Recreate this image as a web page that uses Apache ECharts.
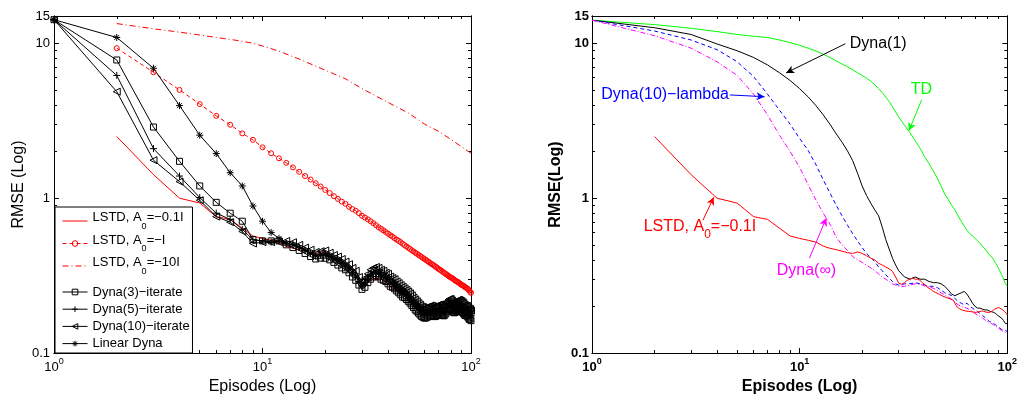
<!DOCTYPE html>
<html><head><meta charset="utf-8">
<script src="https://cdn.jsdelivr.net/npm/echarts@6/dist/echarts.min.js"></script>
<style>html,body{margin:0;padding:0;background:#fff}#c{width:1020px;height:400px}</style>
</head><body><div id="c"></div>
<script>
// ---------- axis ticks / labels ----------
const xMajorTicks = [1, 10, 100];
const xMinorTicks = [2, 3, 4, 5, 6, 7, 8, 9, 20, 30, 40, 50, 60, 70, 80, 90];
const xTickLabels = ['{b|10}{sup|0}', '{b|10}{sup|1}', '{b|10}{sup|2}'];
const yMajorTicks = [0.1, 1, 10, 15];
const yTickLabels = ['0.1', '1', '10', '15'];
const yMinorTicks = [0.2, 0.3, 0.4, 0.5, 0.6, 0.7, 0.8, 0.9, 2, 3, 4, 5, 6, 7, 8, 9];

// ---------- left panel data (episode-indexed) ----------
// LSTD, A0=-0.1I  (episodes 2..100)
const lstdSmall = [
  2.5, 1.42, 1.0, 0.93, 0.76, 0.73, 0.64, 0.57, 0.55, 0.535,
  0.52, 0.49, 0.475, 0.465, 0.455, 0.445, 0.44, 0.45, 0.44, 0.425,
  0.41, 0.40, 0.38, 0.37, 0.36, 0.35, 0.337, 0.31, 0.283, 0.278,
  0.285, 0.295, 0.30, 0.305, 0.30, 0.30, 0.295, 0.285, 0.278, 0.268,
  0.262, 0.257, 0.25, 0.247, 0.243, 0.24, 0.236, 0.233, 0.23, 0.228,
  0.226, 0.224, 0.222, 0.22, 0.21, 0.2, 0.196, 0.193, 0.19, 0.189,
  0.188, 0.187, 0.187, 0.186, 0.185, 0.185, 0.184, 0.184, 0.183, 0.183,
  0.184, 0.185, 0.186, 0.187, 0.187, 0.186, 0.185, 0.184, 0.183, 0.183,
  0.183, 0.184, 0.186, 0.188, 0.19, 0.192, 0.194, 0.195, 0.196, 0.197,
  0.196, 0.194, 0.192, 0.19, 0.188, 0.186, 0.184, 0.18, 0.176
];
// LSTD, A0=-I  (episodes 2..100)
const lstdI = [
  9.3, 6.5, 5.0, 4.05, 3.4, 2.98, 2.62, 2.38, 2.13, 1.95,
  1.81, 1.69, 1.58, 1.48, 1.39, 1.32, 1.25, 1.19, 1.13, 1.08,
  1.03, 0.99, 0.95, 0.92, 0.88, 0.85, 0.83, 0.80, 0.77, 0.75,
  0.73, 0.71, 0.69, 0.67, 0.65, 0.635, 0.62, 0.605, 0.59, 0.577,
  0.565, 0.552, 0.54, 0.53, 0.52, 0.508, 0.498, 0.488, 0.479, 0.47,
  0.461, 0.453, 0.445, 0.438, 0.431, 0.424, 0.417, 0.41, 0.404, 0.398,
  0.392, 0.386, 0.38, 0.375, 0.37, 0.365, 0.36, 0.354, 0.349, 0.345,
  0.341, 0.336, 0.331, 0.327, 0.323, 0.319, 0.315, 0.311, 0.308, 0.305,
  0.302, 0.298, 0.294, 0.291, 0.289, 0.286, 0.283, 0.279, 0.276, 0.274,
  0.272, 0.269, 0.266, 0.263, 0.261, 0.258, 0.254, 0.249, 0.245
];
// LSTD, A0=-10I
const lstd10Episodes = [2, 3, 4, 5, 6, 7, 8, 9, 10, 12, 15, 20, 25, 30, 40, 50, 60, 70, 80, 90, 100];
const lstd10Values = [13.4, 12.4, 11.8, 11.3, 10.9, 10.6, 10.3, 10.0, 9.6, 8.9, 7.9, 6.7, 5.9, 5.1, 4.15, 3.55, 3.0, 2.7, 2.4, 2.15, 1.95];
// Dyna iterate curves, episodes 1..12 each
const dyna3Head = [14.2, 7.8, 2.88, 1.73, 1.2, 0.94, 0.80, 0.71, 0.54, 0.53, 0.53, 0.53];
const dyna5Head = [14.2, 6.2, 2.09, 1.39, 1.01, 0.80, 0.73, 0.63, 0.54, 0.53, 0.52, 0.53];
const dyna10Head = [14.2, 4.87, 1.76, 1.28, 0.97, 0.76, 0.70, 0.61, 0.51, 0.52, 0.52, 0.52];
const linearDynaHead = [14.2, 10.9, 6.9, 3.96, 2.55, 1.94, 1.46, 1.2, 0.89, 0.71, 0.60, 0.55];
// Dyna cluster tails, episodes 13..100 (middle, upper edge, lower edge of the band)
const dynaTail = [
  0.51, 0.50, 0.48, 0.46, 0.44, 0.425, 0.43, 0.435, 0.42, 0.405,
  0.395, 0.38, 0.365, 0.35, 0.33, 0.315, 0.29, 0.272, 0.285, 0.305,
  0.32, 0.33, 0.335, 0.33, 0.322, 0.315, 0.31, 0.30, 0.29, 0.285,
  0.278, 0.27, 0.262, 0.255, 0.248, 0.245, 0.238, 0.232, 0.225, 0.218,
  0.212, 0.205, 0.2, 0.195, 0.19, 0.186, 0.183, 0.181, 0.182, 0.184,
  0.186, 0.188, 0.187, 0.186, 0.185, 0.186, 0.188, 0.19, 0.191, 0.19,
  0.188, 0.187, 0.19, 0.195, 0.2, 0.205, 0.208, 0.207, 0.202, 0.198,
  0.196, 0.197, 0.2, 0.203, 0.205, 0.204, 0.202, 0.2, 0.197, 0.194,
  0.19, 0.188, 0.187, 0.186, 0.182, 0.177, 0.179, 0.174
];
const dynaTailHigh = [
  0.53, 0.52, 0.50, 0.48, 0.465, 0.45, 0.455, 0.46, 0.445, 0.43,
  0.42, 0.405, 0.39, 0.375, 0.355, 0.34, 0.31, 0.292, 0.305, 0.325,
  0.345, 0.355, 0.36, 0.355, 0.345, 0.34, 0.33, 0.325, 0.312, 0.305,
  0.30, 0.29, 0.283, 0.275, 0.268, 0.262, 0.256, 0.25, 0.243, 0.236,
  0.228, 0.222, 0.216, 0.21, 0.205, 0.2, 0.198, 0.196, 0.197, 0.199,
  0.2, 0.203, 0.202, 0.2, 0.2, 0.201, 0.203, 0.205, 0.206, 0.205,
  0.203, 0.202, 0.205, 0.21, 0.216, 0.221, 0.224, 0.223, 0.218, 0.214,
  0.212, 0.213, 0.216, 0.219, 0.221, 0.22, 0.218, 0.216, 0.213, 0.21,
  0.205, 0.203, 0.202, 0.201, 0.197, 0.191, 0.193, 0.188
];
const dynaTailLow = [
  0.50, 0.48, 0.46, 0.44, 0.42, 0.405, 0.41, 0.41, 0.40, 0.385,
  0.37, 0.355, 0.345, 0.33, 0.31, 0.295, 0.275, 0.258, 0.266, 0.285,
  0.30, 0.31, 0.315, 0.31, 0.30, 0.295, 0.29, 0.28, 0.27, 0.266,
  0.26, 0.252, 0.245, 0.238, 0.23, 0.228, 0.222, 0.216, 0.21, 0.203,
  0.197, 0.19, 0.186, 0.181, 0.176, 0.172, 0.17, 0.168, 0.169, 0.171,
  0.173, 0.175, 0.174, 0.173, 0.172, 0.173, 0.175, 0.176, 0.177, 0.176,
  0.175, 0.174, 0.176, 0.181, 0.186, 0.19, 0.193, 0.192, 0.188, 0.184,
  0.182, 0.183, 0.186, 0.188, 0.19, 0.189, 0.188, 0.186, 0.183, 0.18,
  0.176, 0.175, 0.174, 0.173, 0.169, 0.165, 0.166, 0.162
];

// ---------- right panel data ----------
const rightEpisodes = [1, 2, 3, 4, 5, 6, 7, 8, 9, 10, 11, 12, 13, 14, 15, 16, 17, 18, 19, 20,
  21, 22, 23, 24, 25, 26, 27, 28, 29, 30, 32, 34, 36, 38, 40, 42, 44, 46, 48, 50,
  52, 54, 56, 58, 60, 62, 64, 66, 68, 70, 72, 74, 76, 78, 80, 82, 84, 86, 88, 90,
  92, 94, 96, 98, 100];
const tdValues = [14.1, 13.2, 12.5, 11.9, 11.4, 11.1, 10.9, 10.5, 10.1, 9.7,
  9.3, 8.9, 8.5, 8.1, 7.7, 7.35, 7.05, 6.75, 6.45, 6.2,
  5.95, 5.7, 5.4, 5.1, 4.8, 4.5, 4.2, 3.9, 3.6, 3.35,
  2.95, 2.65, 2.35, 2.1, 1.85, 1.67, 1.5, 1.35, 1.2, 1.06,
  0.98, 0.9, 0.84, 0.77, 0.71, 0.66, 0.62, 0.59, 0.57, 0.55,
  0.53, 0.51, 0.49, 0.47, 0.45, 0.43, 0.42, 0.4, 0.38, 0.36,
  0.34, 0.32, 0.3, 0.28, 0.27];
const dyna1Values = [14.1, 12.6, 11.4, 9.9, 8.95, 8.1, 7.25, 6.45, 5.75, 5.1,
  4.5, 3.95, 3.45, 3.0, 2.6, 2.3, 2.02, 1.75, 1.45, 1.2,
  1.04, 0.93, 0.84, 0.77, 0.65, 0.54, 0.47, 0.41, 0.37, 0.34,
  0.31, 0.30, 0.31, 0.30, 0.30, 0.29, 0.285, 0.285, 0.28, 0.27,
  0.255, 0.24, 0.235, 0.24, 0.245, 0.25, 0.24, 0.225, 0.21, 0.2,
  0.195, 0.195, 0.192, 0.19, 0.19, 0.187, 0.185, 0.183, 0.18, 0.175,
  0.17, 0.168, 0.162, 0.155, 0.155];
const dyna10LambdaValues = [14.1, 12.0, 10.5, 9.1, 7.6, 6.1, 4.7, 3.7, 3.0, 2.43,
  2.03, 1.64, 1.31, 1.08, 0.9, 0.77, 0.67, 0.59, 0.53, 0.48,
  0.44, 0.414, 0.39, 0.36, 0.34, 0.32, 0.305, 0.29, 0.28, 0.275,
  0.28, 0.28, 0.285, 0.28, 0.275, 0.27, 0.27, 0.265, 0.255, 0.245,
  0.24, 0.235, 0.225, 0.215, 0.21, 0.205, 0.21, 0.2, 0.195, 0.19,
  0.185, 0.18, 0.175, 0.17, 0.165, 0.16, 0.158, 0.155, 0.152, 0.148,
  0.145, 0.142, 0.14, 0.14, 0.138];
const dynaInfValues = [14.1, 11.2, 9.3, 7.6, 6.2, 4.7, 3.45, 2.55, 2.0, 1.58,
  1.22, 0.97, 0.8, 0.68, 0.56, 0.5, 0.46, 0.42, 0.40, 0.385,
  0.37, 0.355, 0.34, 0.325, 0.31, 0.30, 0.29, 0.28, 0.275, 0.27,
  0.27, 0.275, 0.28, 0.278, 0.272, 0.268, 0.262, 0.255, 0.245, 0.237,
  0.23, 0.222, 0.213, 0.205, 0.2, 0.197, 0.195, 0.19, 0.185, 0.18,
  0.176, 0.172, 0.168, 0.164, 0.16, 0.158, 0.155, 0.152, 0.149, 0.146,
  0.143, 0.14, 0.138, 0.136, 0.135];

// legend texts
const legendNamesA = ['LSTD, A0=−0.1I', 'LSTD, A0=−I', 'LSTD, A0=−10I'];
const legendLabelsA = ['{m|LSTD, A}{s|0}{m|=−0.1I}', '{m|LSTD, A}{s|0}{m|=−I}', '{m|LSTD, A}{s|0}{m|=−10I}'];
const legendNamesB = ['Dyna(3)−iterate', 'Dyna(5)−iterate', 'Dyna(10)−iterate', 'Linear Dyna'];

// annotations of the right panel (data coordinates)
const annotations = [
  {series: 'Dyna(1)', text: 'Dyna(1)', color: '#000000', at: [23.9, 9.93], from: [16.6, 9.93], to: [8.61, 6.44]},
  {series: 'TD', text: 'TD', color: '#00ff00', at: [38.6, 4.99], from: [38.7, 4.31], to: [33.6, 2.72]},
  {series: 'Dyna(10)−lambda', text: 'Dyna(10)−lambda', color: '#0000ff', at: [2.25, 4.64], from: [4.61, 4.64], to: [6.78, 4.52]},
  {series: 'LSTD (right)', text: 'LSTD, A{s|0}=−0.1I', color: '#ff0000', at: [3.31, 0.656], from: [3.42, 0.72], to: [3.86, 1.015]},
  {series: 'Dyna(∞)', text: 'Dyna(∞)', color: '#ff00ff', at: [10.78, 0.343], from: [11.15, 0.41], to: [13.45, 0.745]}
];

// ---------- helpers ----------
const FONT = "'Liberation Sans', Arial, Helvetica, sans-serif";
function lookup(values, labels, v) {
  let best = 0, bd = Infinity;
  values.forEach((t, i) => { const d = Math.abs(Math.log(t) - Math.log(v)); if (d < bd) { bd = d; best = i; } });
  return labels[best];
}
const fromStart = (start, vals) => vals.map((v, i) => [start + i, v]);
const zip = (xs, ys) => xs.map((x, i) => [x, ys[i]]);

const SYM = {
  square: 'path://M0,0L10,0L10,10L0,10Z',
  plus: 'path://M5,0L5,10M0,5L10,5',
  triLeft: 'path://M0,5L10,0L10,10Z',
  star: 'path://M5,0L5,10M0,5L10,5M1.5,1.5L8.5,8.5M8.5,1.5L1.5,8.5',
  circle: 'path://M10,5A5,5,0,1,1,0,5A5,5,0,1,1,10,5Z'
};

function tick(vals, len) {
  return {show: true, inside: true, length: len, customValues: vals, lineStyle: {color: '#000', width: 1}};
}
function axisCommon(grid, min, max) {
  return {type: 'log', logBase: 10, min: min, max: max, gridIndex: grid, splitLine: {show: false}, silent: true,
    axisLine: {show: true, onZero: false, lineStyle: {color: '#000', width: 1}}, axisPointer: {show: false}};
}
function makeX(grid, bold) {
  const fw = bold ? 'bold' : 'normal';
  const rich = {
    b: {fontSize: 13, fontFamily: FONT, fontWeight: fw, color: '#000', verticalAlign: 'top', padding: [4, 0, 0, 0]},
    sup: {fontSize: 9, fontFamily: FONT, fontWeight: fw, color: '#000', verticalAlign: 'top'}
  };
  const c = () => axisCommon(grid, 1, 100);
  return [
    Object.assign(c(), {position: 'bottom', axisTick: tick(xMajorTicks, 5),
      axisLabel: {show: true, customValues: xMajorTicks, margin: 4, formatter: v => lookup(xMajorTicks, xTickLabels, v), rich: rich},
      name: 'Episodes (Log)', nameLocation: 'middle', nameGap: 20,
      nameTextStyle: {fontSize: 16, fontFamily: FONT, fontWeight: fw, color: '#000'}}),
    Object.assign(c(), {position: 'bottom', axisTick: tick(xMinorTicks, 3), axisLabel: {show: false}}),
    Object.assign(c(), {position: 'top', axisTick: tick(xMajorTicks, 5), axisLabel: {show: false}}),
    Object.assign(c(), {position: 'top', axisTick: tick(xMinorTicks, 3), axisLabel: {show: false}})
  ];
}
function makeY(grid, bold, name, gap, margin) {
  const fw = bold ? 'bold' : 'normal';
  const c = () => axisCommon(grid, 0.1, 15);
  return [
    Object.assign(c(), {position: 'left', axisTick: tick(yMajorTicks, 5),
      axisLabel: {show: true, customValues: yMajorTicks, margin: margin, fontSize: 13, fontFamily: FONT, fontWeight: fw, color: '#000',
        formatter: v => lookup(yMajorTicks, yTickLabels, v)},
      name: name, nameLocation: 'middle', nameGap: gap,
      nameTextStyle: {fontSize: 16, fontFamily: FONT, fontWeight: fw, color: '#000'}}),
    Object.assign(c(), {position: 'left', axisTick: tick(yMinorTicks, 3), axisLabel: {show: false}}),
    Object.assign(c(), {position: 'right', axisTick: tick(yMajorTicks, 5), axisLabel: {show: false}}),
    Object.assign(c(), {position: 'right', axisTick: tick(yMinorTicks, 3), axisLabel: {show: false}})
  ];
}

function lineSeries(name, data, color, dash, axisBase, symbol, size) {
  const s = {name: name, type: 'line', xAxisIndex: axisBase, yAxisIndex: axisBase, data: data,
    lineStyle: {color: color, width: 1, type: dash || 'solid'}, silent: true, z: 2};
  if (symbol) {
    s.symbol = symbol; s.symbolSize = size; s.showSymbol = true;
    s.itemStyle = {color: 'rgba(0,0,0,0)', borderColor: color, borderWidth: 1};
  } else {
    s.symbol = 'none'; s.showSymbol = false;
    s.itemStyle = {color: color};
  }
  return s;
}

const series = [
  lineSeries('LSTD, A0=−0.1I', fromStart(2, lstdSmall), '#ff0000', 'solid', 0),
  lineSeries('LSTD, A0=−I', fromStart(2, lstdI), '#ff0000', [4, 3], 0, SYM.circle, 5),
  lineSeries('LSTD, A0=−10I', zip(lstd10Episodes, lstd10Values), '#ff0000', [6, 3, 1, 3], 0),
  lineSeries('Dyna(3)−iterate', fromStart(1, dyna3Head.concat(dynaTailLow)), '#000000', 'solid', 0, SYM.square, 6),
  lineSeries('Dyna(5)−iterate', fromStart(1, dyna5Head.concat(dynaTail)), '#000000', 'solid', 0, SYM.plus, 7),
  lineSeries('Dyna(10)−iterate', fromStart(1, dyna10Head.concat(dynaTailHigh)), '#000000', 'solid', 0, SYM.triLeft, 7),
  lineSeries('Linear Dyna', fromStart(1, linearDynaHead.concat(dynaTail)), '#000000', 'solid', 0, SYM.star, 7),
  lineSeries('TD', zip(rightEpisodes, tdValues), '#00ff00', 'solid', 4),
  lineSeries('Dyna(1)', zip(rightEpisodes, dyna1Values), '#000000', 'solid', 4),
  lineSeries('Dyna(10)−lambda', zip(rightEpisodes, dyna10LambdaValues), '#0000ff', [4, 3], 4),
  lineSeries('Dyna(∞)', zip(rightEpisodes, dynaInfValues), '#ff00ff', [5, 2, 1, 2], 4),
  lineSeries('LSTD (right)', fromStart(2, lstdSmall), '#ff0000', 'solid', 4)
];

annotations.forEach(a => {
  const s = series.find(x => x.name === a.series);
  s.markLine = {silent: true, animation: false, symbol: ['none', 'arrow'], symbolSize: [6, 8],
    lineStyle: {color: a.color, width: 1, type: 'solid'}, label: {show: false},
    data: [[{coord: a.from}, {coord: a.to}]]};
  s.markPoint = {silent: true, animation: false,
    data: [{coord: a.at, symbol: 'rect', symbolSize: 1, itemStyle: {color: 'rgba(0,0,0,0)'},
      label: {show: true, position: 'inside', formatter: a.text, color: a.color, fontSize: 16, fontFamily: FONT,
        rich: {s: {fontSize: 12, fontFamily: FONT, color: a.color, verticalAlign: 'top', padding: [16, 0, 0, 0]}}}}]};
});

const legendRich = {
  m: {fontSize: 13, fontFamily: FONT, color: '#000', verticalAlign: 'top'},
  s: {fontSize: 9, fontFamily: FONT, color: '#000', verticalAlign: 'top', padding: [11, 0, 0, 0]}
};
const noMarker = {color: 'rgba(0,0,0,0)', borderColor: 'rgba(0,0,0,0)', borderWidth: 0};
const ringMarker = {color: 'rgba(0,0,0,0)', borderColor: '#ff0000', borderWidth: 1};

const option = {
  animation: false,
  backgroundColor: '#ffffff',
  grid: [
    {left: 54, top: 16, width: 417, height: 340},
    {left: 592, top: 16, width: 417, height: 340}
  ],
  xAxis: makeX(0, false).concat(makeX(1, true)),
  yAxis: makeY(0, false, 'RMSE (Log)', 27, 4).concat(makeY(1, true, 'RMSE(Log)', 28, 3)),
  legend: [
    {data: [
        {name: legendNamesA[0], itemStyle: noMarker},
        {name: legendNamesA[1], itemStyle: ringMarker},
        {name: legendNamesA[2], itemStyle: noMarker}],
      orient: 'vertical', left: 55, top: 207, itemGap: 2.5, itemWidth: 25, itemHeight: 7,
      padding: [4, 9, 77, 7], borderColor: '#000', borderWidth: 1, backgroundColor: '#fff', selectedMode: false,
      formatter: n => lookup([1, 2, 3], legendLabelsA, legendNamesA.indexOf(n) + 1),
      textStyle: {fontSize: 13, fontFamily: FONT, color: '#000', rich: legendRich},
      lineStyle: {width: 1}, itemStyle: {borderWidth: 1}},
    {data: legendNamesB, orient: 'vertical', left: 62, top: 285.5, itemGap: 4.2, itemWidth: 25, itemHeight: 7,
      padding: 0, selectedMode: false,
      textStyle: {fontSize: 13, fontFamily: FONT, color: '#000'},
      lineStyle: {width: 1}, itemStyle: {borderWidth: 1}}
  ],
  series: series
};

const chart = echarts.init(document.getElementById('c'), null, {renderer: 'canvas'});
chart.setOption(option);
</script>
</body></html>
